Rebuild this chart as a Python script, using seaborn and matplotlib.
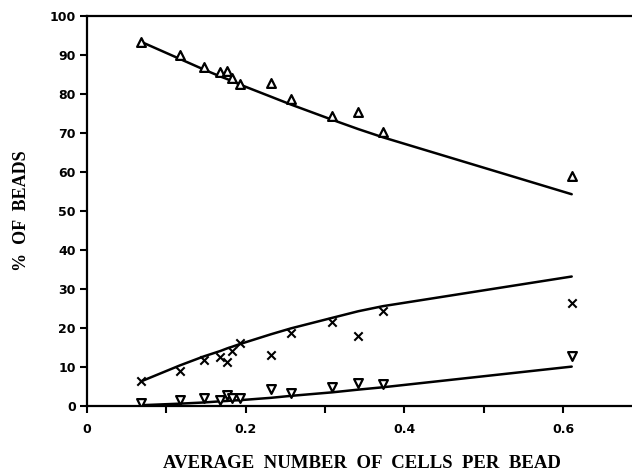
import numpy as np
import pandas as pd
import matplotlib
matplotlib.use("Agg")
import matplotlib.pyplot as plt
import seaborn as sns

# average number of cells per bead for each experiment
cells_per_bead = [0.068, 0.117, 0.147, 0.168, 0.177, 0.183, 0.193, 0.232, 0.257, 0.309, 0.342, 0.373, 0.611]

# measured % of beads
empty_obs = [93.4, 90.0, 87.0, 85.7, 86.0, 84.0, 82.6, 82.9, 78.6, 74.4, 75.3, 70.3, 59.0]
single_obs = [6.4, 9.0, 11.8, 12.6, 11.4, 14.2, 16.2, 13.1, 18.6, 21.5, 18.0, 24.4, 26.3]
multi_obs = [0.7, 1.5, 2.0, 1.5, 2.8, 2.1, 2.1, 4.3, 3.3, 5.0, 6.0, 5.6, 12.8]

# expected curves at the same x values
empty_fit = [93.4, 89.0, 86.3, 84.5, 83.8, 83.3, 82.4, 79.3, 77.3, 73.4, 71.0, 68.9, 54.3]
single_fit = [6.3, 10.4, 12.7, 14.1, 14.8, 15.2, 15.9, 18.4, 19.9, 22.6, 24.3, 25.6, 33.2]
multi_fit = [0.2, 0.6, 0.9, 1.2, 1.3, 1.4, 1.5, 2.1, 2.6, 3.5, 4.2, 4.8, 10.1]

df = pd.DataFrame({"x": cells_per_bead,
                   "empty": empty_obs, "single": single_obs, "multi": multi_obs,
                   "empty_fit": empty_fit, "single_fit": single_fit, "multi_fit": multi_fit})

sns.set_style("ticks", {"axes.edgecolor": "black", "xtick.color": "black",
                        "ytick.color": "black", "text.color": "black",
                        "axes.labelcolor": "black"})
plt.rcParams["font.family"] = ["DejaVu Sans"]

fig = plt.figure(figsize=(6.32, 4.72), dpi=100)
ax = fig.add_axes([87/632, 66/472, 545/632, 390/472])

for col in ["empty_fit", "single_fit", "multi_fit"]:
    sns.lineplot(data=df, x="x", y=col, ax=ax, color="black", linewidth=1.8)

sns.scatterplot(data=df, x="x", y="empty", ax=ax, marker="^", s=40,
                facecolor="white", edgecolor="black", linewidth=1.6, zorder=3)
sns.scatterplot(data=df, x="x", y="single", ax=ax, marker="x", s=36,
                color="black", linewidth=1.5, zorder=3)
sns.scatterplot(data=df, x="x", y="multi", ax=ax, marker="v", s=40,
                facecolor="white", edgecolor="black", linewidth=1.6, zorder=3)

ax.set_xlim(0, 0.687)
ax.set_ylim(0, 100)
ax.set_xticks(np.arange(0, 0.65, 0.1))
ax.set_xticklabels(["0", "", "0.2", "", "0.4", "", "0.6"])
ax.set_yticks(range(0, 101, 10))
ax.tick_params(axis="both", length=5, width=1.5, labelsize=9, pad=3,
               color="black", labelcolor="black")
for lab in ax.get_xticklabels() + ax.get_yticklabels():
    lab.set_fontweight("bold")
ax.tick_params(axis="x", pad=7)

for s in ["left", "bottom", "top"]:
    ax.spines[s].set_linewidth(1.6)
    ax.spines[s].set_color("black")
ax.spines["right"].set_visible(False)

ax.set_xlabel("AVERAGE  NUMBER  OF  CELLS  PER  BEAD", family="Liberation Serif",
              fontsize=13.5, fontweight="bold", va="center", color="black")
ax.set_ylabel("%  OF  BEADS", family="Liberation Serif",
              fontsize=13, fontweight="bold", va="center", color="black")
ax.xaxis.set_label_coords(0.5046, -0.147)
ax.yaxis.set_label_coords(-0.12, 0.5)

fig.savefig("out.png", dpi=100)
